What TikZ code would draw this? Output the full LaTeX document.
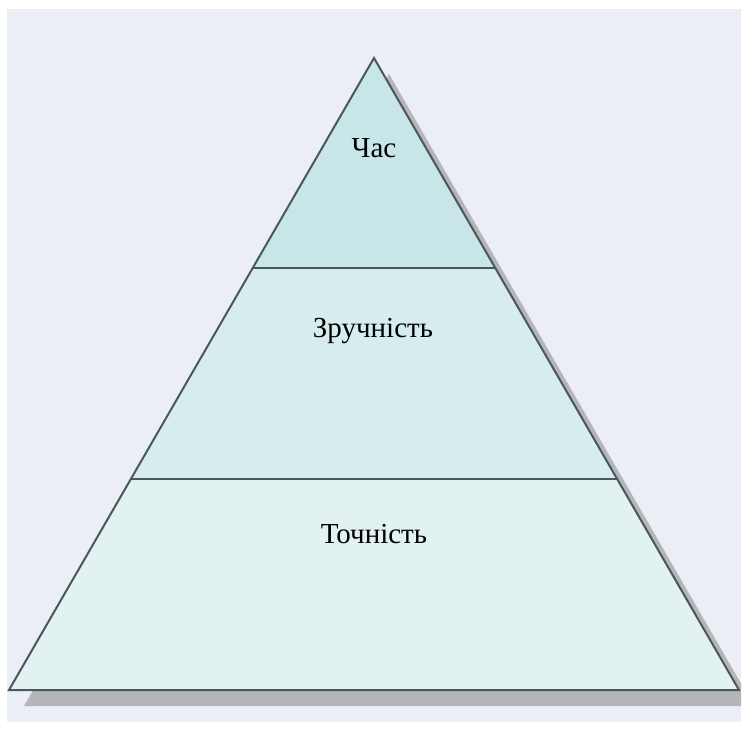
\documentclass[tikz,border=0pt]{standalone}
\usepackage{fontspec}
\setmainfont{Liberation Serif}
\usetikzlibrary{calc}
\definecolor{bgc}{HTML}{ECEEF5}
\definecolor{shadowc}{HTML}{B5B5BA}
\definecolor{topc}{HTML}{C8E5E8}
\definecolor{midc}{HTML}{D6ECEE}
\definecolor{botc}{HTML}{E2F2F2}
\definecolor{linec}{HTML}{4B5859}
\tikzset{
  outline/.style={draw=linec, line width=2pt, line join=miter},
  label/.style={font=\fontsize{29}{34}\selectfont, text=black, inner sep=0pt, anchor=center}
}
\begin{document}
\begin{tikzpicture}[x=1pt,y=-1pt]
\useasboundingbox (0,0) rectangle (743,733);
\fill[white] (0,0) rectangle (743,733);
\fill[bgc] (7,9) rectangle (741,722);
% main coordinates
\coordinate (A) at (374,58);
\coordinate (L) at (9,690);
\coordinate (R) at (739,690);
\coordinate (P1L) at ($(A)!0.3323!(L)$);
\coordinate (P1R) at ($(A)!0.3323!(R)$);
\coordinate (P2L) at ($(A)!0.666!(L)$);
\coordinate (P2R) at ($(A)!0.666!(R)$);
% shadow
\begin{scope}
\clip (7,9) rectangle (741,722);
\fill[shadowc] ($(A)+(15,16)$) -- ($(L)+(15,16)$) -- ($(R)+(15,16)$) -- cycle;
\end{scope}
% bands
\fill[topc] (A) -- (P1L) -- (P1R) -- cycle;
\fill[midc] (P1L) -- (P2L) -- (P2R) -- (P1R) -- cycle;
\fill[botc] (P2L) -- (L) -- (R) -- (P2R) -- cycle;
% lines
\draw[outline] (P1L) -- (P1R);
\draw[outline] (P2L) -- (P2R);
\draw[outline] (A) -- (L) -- (R) -- cycle;
% labels
\node[label] (t1) at (374,148) {Час};
\node[label] (t2) at (373,331) {Зручність};
\node[label] (t3) at (374,534) {Точність};
\end{tikzpicture}
\end{document}
